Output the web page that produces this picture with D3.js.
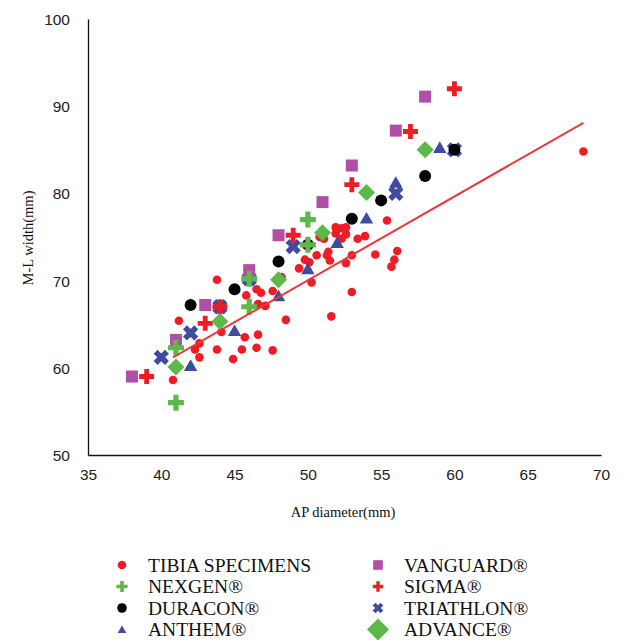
<!DOCTYPE html>
<html>
<head>
<meta charset="utf-8">
<script src="https://cdn.jsdelivr.net/npm/d3@7"></script>
<style>
  html, body { margin: 0; padding: 0; background: #fff; }
  svg { display: block; }
</style>
</head>
<body>
<svg id="chart" width="622" height="640"></svg>
<script>
// ---------------- DATA ----------------
const xTicks = [35, 40, 45, 50, 55, 60, 65, 70];
const yTicks = [50, 60, 70, 80, 90, 100];

const tibiaX = [40.8, 41.2, 42.3, 42.6, 42.6, 43.8, 43.8, 44.1, 44.9, 45.5, 45.7, 45.8, 46.5, 47.6, 46.6, 47.1,
  48.2, 48.5, 46.6, 46.5, 47.6, 49.4, 49.8, 50.1, 50.25, 50.6, 50.8, 51.1, 51.3, 51.5, 51.6, 51.9, 52.3, 52.6,
  51.9, 52.6, 52.3, 52.6, 53.0, 53.0, 53.4, 53.9, 54.6, 55.4, 56.1, 55.9, 55.7, 68.8, 46.8, 51.4];
const tibiaY = [58.6, 65.4, 62.1, 62.8, 61.2, 70.1, 62.1, 64.1, 61.0, 62.1, 63.5, 68.3, 69.0, 68.8, 67.3, 67.1,
  70.4, 65.5, 63.8, 62.3, 62.0, 71.4, 72.4, 72.1, 69.8, 72.9, 75.0, 74.8, 72.9, 72.3, 65.9, 76.1, 76.0, 76.1,
  75.4, 75.3, 74.8, 72.0, 72.9, 68.7, 74.8, 75.1, 73.0, 76.9, 73.4, 72.4, 71.6, 84.8, 68.6, 73.3];

const nexgenX = [41, 41, 46, 46, 50, 50];
const nexgenY = [56, 62.3, 67, 70.2, 74.1, 77];

const duraconX = [42, 45, 48, 50, 53, 55, 58, 60];
const duraconY = [67.2, 69, 72.2, 74.1, 77.1, 79.2, 82, 85];

const anthemX = [42, 45, 48, 50, 52, 54, 56, 59];
const anthemY = [60.2, 64.2, 68.2, 71.3, 74.3, 77.1, 81.2, 85.2];

const vanguardX = [38, 41, 43, 46, 48, 51, 53, 56, 58];
const vanguardY = [59, 63.2, 67.2, 71.2, 75.2, 79, 83.2, 87.2, 91.1];

const sigmaX = [39, 43, 44, 49, 53, 57, 60];
const sigmaY = [59, 65.1, 67, 75.2, 81, 87.1, 92];

const triathlonX = [40, 42, 44, 46, 49, 56, 60];
const triathlonY = [61.2, 64, 67, 70.2, 73.9, 80, 85];

const advanceX = [41, 44, 48, 51, 54, 58];
const advanceY = [60.1, 65.3, 70.1, 75.5, 80.1, 85];

const trendX = [40.8, 68.8];
const trendY = [61.2, 88.1];

const legendLabels = ["TIBIA SPECIMENS", "NEXGEN®", "DURACON®", "ANTHEM®", "VANGUARD®", "SIGMA®", "TRIATHLON®", "ADVANCE®"];

// ---------------- CHART ----------------
const svg = d3.select("#chart");
const x = d3.scaleLinear().domain([35, 70]).range([88, 601]);
const y = d3.scaleLinear().domain([50, 100]).range([455, 19]);

const RED = "#ee1c25", GREEN = "#5cb848", BLACK = "#000", BLUE = "#3f4ca0", PURPLE = "#b04fa5";

// axes
const xAxis = d3.axisBottom(x).tickValues(xTicks).tickSize(0).tickPadding(14);
const yAxis = d3.axisLeft(y).tickValues(yTicks).tickSize(0).tickPadding(18);
const gx = svg.append("g").attr("transform", "translate(0,455)").call(xAxis);
const gy = svg.append("g").attr("transform", "translate(88,0)").call(yAxis);
[gx, gy].forEach(g => {
  g.select(".domain").attr("stroke", "#111").attr("stroke-width", 1.3);
  g.selectAll("text").attr("font-family", "Liberation Sans, Arial, sans-serif").attr("font-size", 15.5).attr("fill", "#222");
});
gy.selectAll("text").attr("dy", "0.35em");

svg.append("text").attr("x", 343).attr("y", 517).attr("text-anchor", "middle")
  .attr("font-family", "Liberation Serif, Times New Roman, serif").attr("font-size", 14.5).attr("fill", "#111")
  .text("AP diameter(mm)");
svg.append("text").attr("transform", "translate(33,238) rotate(-90)").attr("text-anchor", "middle")
  .attr("font-family", "Liberation Serif, Times New Roman, serif").attr("font-size", 14.5).attr("fill", "#111")
  .text("M-L width(mm)");

// symbol helpers
function plusPath(s, w) { // s = half length, w = half thickness
  return `M${-w},${-s}H${w}V${-w}H${s}V${w}H${w}V${s}H${-w}V${w}H${-s}V${-w}H${-w}Z`;
}
function drawSeries(xs, ys, fn) {
  const g = svg.append("g");
  xs.forEach((v, i) => fn(g, x(v), y(ys[i])));
}
const marks = {
  tibia: (g, cx, cy, k = 1) => g.append("circle").attr("cx", cx).attr("cy", cy).attr("r", 4.3 * k).attr("fill", RED),
  nexgen: (g, cx, cy, k = 1) => g.append("path").attr("d", plusPath(8 * k, 2.6 * k)).attr("transform", `translate(${cx},${cy})`).attr("fill", GREEN),
  duracon: (g, cx, cy, k = 1) => g.append("circle").attr("cx", cx).attr("cy", cy).attr("r", 6 * k).attr("fill", BLACK),
  anthem: (g, cx, cy, k = 1) => g.append("path").attr("d", d3.symbol(d3.symbolTriangle, 78 * k * k)()).attr("transform", `translate(${cx},${cy + 1})`).attr("fill", BLUE),
  vanguard: (g, cx, cy, k = 1) => g.append("rect").attr("x", cx - 6 * k).attr("y", cy - 6 * k).attr("width", 12 * k).attr("height", 12 * k).attr("fill", PURPLE),
  sigma: (g, cx, cy, k = 1) => g.append("path").attr("d", plusPath(7.5 * k, 2.4 * k)).attr("transform", `translate(${cx},${cy})`).attr("fill", RED),
  triathlon: (g, cx, cy, k = 1) => g.append("path").attr("d", plusPath(8 * k, 2.8 * k)).attr("transform", `translate(${cx},${cy}) rotate(45)`).attr("fill", BLUE),
  advance: (g, cx, cy, k = 1) => g.append("rect").attr("x", -6 * k).attr("y", -6 * k).attr("width", 12 * k).attr("height", 12 * k).attr("transform", `translate(${cx},${cy}) rotate(45)`).attr("fill", GREEN)
};

drawSeries(tibiaX, tibiaY, marks.tibia);
drawSeries(triathlonX, triathlonY, marks.triathlon);
drawSeries(anthemX, anthemY, marks.anthem);
drawSeries(vanguardX, vanguardY, marks.vanguard);
drawSeries(duraconX, duraconY, marks.duracon);
drawSeries(sigmaX, sigmaY, marks.sigma);
drawSeries(nexgenX, nexgenY, marks.nexgen);
drawSeries(advanceX, advanceY, marks.advance);

// trend line
svg.append("line")
  .attr("x1", x(trendX[0])).attr("y1", y(trendY[0]))
  .attr("x2", x(trendX[1])).attr("y2", y(trendY[1]))
  .attr("stroke", "#e8393d").attr("stroke-width", 2);

// legend
const legendKeys = ["tibia", "nexgen", "duracon", "anthem", "vanguard", "sigma", "triathlon", "advance"];
const legendScale = [1, 0.7, 0.8, 0.65, 0.8, 0.7, 0.7, 1.3];
legendLabels.forEach((lab, i) => {
  const col = Math.floor(i / 4), row = i % 4;
  const mx = col === 0 ? 122 : 378;
  const my = 565 + row * 21.5;
  const g = svg.append("g");
  marks[legendKeys[i]](g, mx, my, legendScale[i]);
  g.append("text").attr("x", mx + 26).attr("y", my).attr("dy", "0.35em")
    .attr("font-family", "Liberation Serif, Times New Roman, serif").attr("font-size", 19.5).attr("fill", "#111")
    .text(lab);
});
</script>
</body>
</html>
